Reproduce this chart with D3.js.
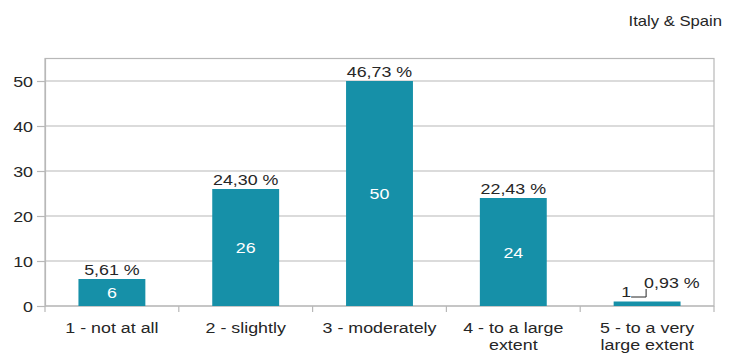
<!DOCTYPE html>
<html>
<head>
<meta charset="utf-8">
<script src="https://cdn.jsdelivr.net/npm/d3@7"></script>
<style>
  body { margin: 0; background: #fff; }
  text { font-family: "Liberation Sans", Arial, sans-serif; }
</style>
</head>
<body>
<div id="chart"></div>
<script>
// chart data
const categories = ["1 - not at all", "2 - slightly", "3 - moderately", "4 - to a large\nextent", "5 - to a very\nlarge extent"];
const counts = [6, 26, 50, 24, 1];
const percents = ["5,61 %", "24,30 %", "46,73 %", "22,43 %", "0,93 %"];
const yTicks = [0, 10, 20, 30, 40, 50];
const title = "Italy & Spain";

const width = 731;
const height = 356;
const plot = { left: 45, right: 714, top: 58.5, bottom: 306 };
const barColor = "#1690a8";
const gridColor = "#b8b8b8";
const textColor = "#262626";
const sx = 1.19; // text in the source is a little stretched

const svg = d3.select("#chart").append("svg")
  .attr("width", width)
  .attr("height", height);

const x = d3.scaleBand()
  .domain(categories)
  .range([plot.left, plot.right])
  .paddingInner(0.5)
  .paddingOuter(0.25);

const y = d3.scaleLinear()
  .domain([0, 55])
  .range([plot.bottom, plot.top]);

// place a stretched text
let stretched = (sel, px, py) => sel.attr("transform", (d, i) =>
  `translate(${typeof px === "function" ? px(d, i) : px},${typeof py === "function" ? py(d, i) : py}) scale(${sx},1)`);

// gridlines
svg.append("g")
  .selectAll("line")
  .data(yTicks)
  .enter()
  .append("line")
  .attr("x1", plot.left)
  .attr("x2", plot.right)
  .attr("y1", d => y(d))
  .attr("y2", d => y(d))
  .attr("stroke", gridColor)
  .attr("stroke-width", 1.2);

// plot border
svg.append("rect")
  .attr("x", plot.left)
  .attr("y", plot.top)
  .attr("width", plot.right - plot.left)
  .attr("height", plot.bottom - plot.top)
  .attr("fill", "none")
  .attr("stroke", gridColor)
  .attr("stroke-width", 1.2);

// y axis
const yAxis = svg.append("g")
  .attr("transform", `translate(${plot.left},0)`)
  .call(d3.axisLeft(y).tickValues(yTicks).tickSize(8).tickSizeOuter(0));
yAxis.select(".domain").attr("stroke", gridColor).attr("stroke-width", 1.2);
yAxis.selectAll(".tick line").attr("stroke", gridColor).attr("stroke-width", 1.2);
yAxis.selectAll(".tick text")
  .attr("x", 0)
  .attr("dy", "0.36em")
  .attr("transform", `translate(-12,0) scale(${sx},1)`)
  .style("font-size", "15px")
  .attr("fill", textColor);

// category boundary ticks
const step = x.step();
const bounds = categories.map(c => x(c) - step * 0.25).concat([x(categories[4]) + x.bandwidth() + step * 0.25]);
svg.append("g")
  .selectAll("line")
  .data(bounds)
  .enter()
  .append("line")
  .attr("x1", d => d)
  .attr("x2", d => d)
  .attr("y1", plot.bottom)
  .attr("y2", plot.bottom + 6)
  .attr("stroke", gridColor)
  .attr("stroke-width", 1.2);

// category labels
const catLabels = svg.append("g")
  .selectAll("text")
  .data(categories)
  .enter()
  .append("text")
  .attr("text-anchor", "middle")
  .style("font-size", "15px")
  .attr("fill", textColor)
  .call(stretched, d => x(d) + x.bandwidth() / 2, 333);
catLabels.each(function (d) {
  d3.select(this).selectAll("tspan")
    .data(d.split("\n"))
    .enter()
    .append("tspan")
    .attr("x", 0)
    .attr("dy", (t, i) => i === 0 ? 0 : 17)
    .text(t => t);
});

// bars
svg.append("g")
  .selectAll("rect")
  .data(counts)
  .enter()
  .append("rect")
  .attr("x", (d, i) => x(categories[i]))
  .attr("y", d => y(d))
  .attr("width", x.bandwidth())
  .attr("height", d => plot.bottom - y(d))
  .attr("fill", barColor);

// percentage labels above bars
svg.append("g")
  .selectAll("text")
  .data(percents)
  .enter()
  .append("text")
  .attr("text-anchor", (d, i) => counts[i] < 3 ? "start" : "middle")
  .style("font-size", "15px")
  .attr("fill", textColor)
  .text(d => d)
  .call(stretched,
    (d, i) => counts[i] < 3 ? x(categories[i]) + x.bandwidth() / 2 - 3 : x(categories[i]) + x.bandwidth() / 2,
    (d, i) => counts[i] < 3 ? y(counts[i]) - 14 : y(counts[i]) - 4);

// count labels inside bars (small bars get a label with a leader line)
svg.append("g")
  .selectAll("text")
  .data(counts)
  .enter()
  .append("text")
  .attr("text-anchor", "middle")
  .style("font-size", "15px")
  .attr("fill", d => d < 3 ? textColor : "#fff")
  .text(d => d)
  .call(stretched,
    (d, i) => counts[i] < 3 ? x(categories[i]) + x.bandwidth() / 2 - 21 : x(categories[i]) + x.bandwidth() / 2,
    (d, i) => counts[i] < 3 ? y(d) - 4.5 : (y(d) + plot.bottom) / 2 + 5.5);

// leader line for small bars
counts.forEach((d, i) => {
  if (d >= 3) return;
  const cx = x(categories[i]) + x.bandwidth() / 2;
  const ly = y(d) - 4.5;
  svg.append("path")
    .attr("d", `M${cx - 16},${ly} L${cx - 1},${ly} L${cx - 1},${ly - 8}`)
    .attr("fill", "none")
    .attr("stroke", textColor)
    .attr("stroke-width", 1);
});

// title in the top right
svg.append("text")
  .attr("text-anchor", "end")
  .style("font-size", "14px")
  .attr("fill", textColor)
  .text(title)
  .call(stretched, 722, 26);
</script>
</body>
</html>
